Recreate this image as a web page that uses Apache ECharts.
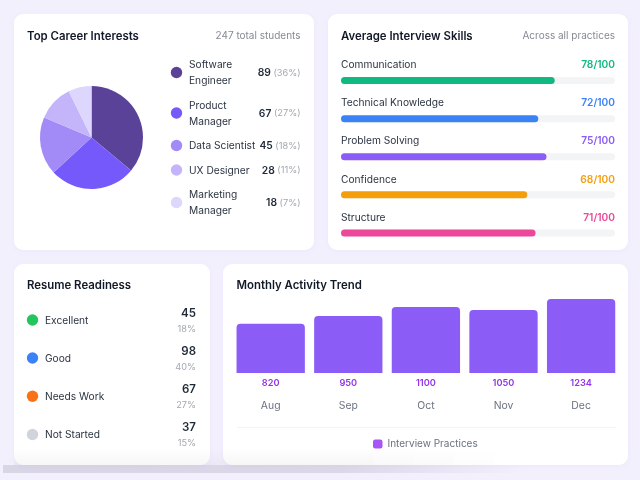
<!DOCTYPE html>
<html><head><meta charset="utf-8">
<style>html,body{margin:0;padding:0;background:#f3f0fe}#c{width:640px;height:480px;filter:blur(0.3px)}</style>
<script src="https://cdn.jsdelivr.net/npm/echarts@6/dist/echarts.min.js"></script></head>
<body><div id="c"></div>
<script>
const careerNames = ['Software\nEngineer','Product\nManager','Data Scientist','UX Designer','Marketing\nManager'];
const careerValues = [89,67,45,28,18];
const careerPercents = ['36%','27%','18%','11%','7%'];
const careerColors = ['#5b4299','#7559fb','#a28bf7','#c4b5fb','#ddd6fd'];
const skillNames = ['Communication','Technical Knowledge','Problem Solving','Confidence','Structure'];
const skillValues = [78,72,75,68,71];
const skillColors = ['#10b981','#3b82f6','#8b5cf6','#f59e0b','#ec4899'];
const readyNames = ['Excellent','Good','Needs Work','Not Started'];
const readyValues = [45,98,67,37];
const readyPercents = ['18%','40%','27%','15%'];
const readyColors = ['#22c55e','#3b82f6','#f97316','#d1d5db'];
const months = ['Aug','Sep','Oct','Nov','Dec'];
const practices = [820,950,1100,1050,1234];

const FONT = 'Inter';
const chart = echarts.init(document.getElementById('c'), null, {renderer:'canvas'});
const g = [];
function card(x,y,w,h){ g.push({type:'rect',z:0,shape:{x,y,width:w,height:h,r:9},
  style:{fill:'#fff',shadowBlur:6,shadowColor:'rgba(90,70,160,0.05)',shadowOffsetY:1}}); }
function txt(x,y,text,size,weight,color,align){ g.push({type:'text',z:5,x,y:y+0.8,style:{text,
  font:`${weight} ${size}px ${FONT}`,fill:color,align:align||'left',verticalAlign:'middle',lineHeight:16}}); }
function dot(x,y,r,color){ g.push({type:'circle',z:5,shape:{cx:x,cy:y,r},style:{fill:color}}); }

card(14,14,300,236); card(328,14,300,236); card(14,264,196,201); card(223,264,405,201);

txt(27,35.5,'Top Career Interests',11.4,600,'#111827');
txt(300.5,35.5,'247 total students',10,400,'#858a93','right');
txt(341,35.5,'Average Interview Skills',11.4,600,'#111827');
txt(615,35.5,'Across all practices',10,400,'#858a93','right');
txt(27,284.5,'Resume Readiness',11.4,600,'#111827');
txt(236.5,284.5,'Monthly Activity Trend',11.4,600,'#111827');

const legendY = [72.5,113,145.5,170,202.5];
careerNames.forEach((n,i)=>{
  dot(176.5,legendY[i],5.7,careerColors[i]);
  txt(189,legendY[i],n,10.2,400,'#2b3442');
  g.push({type:'text',z:5,x:300.5,y:legendY[i]+0.5,style:{
    text:`{b|${careerValues[i]}}{p| (${careerPercents[i]})}`,align:'right',verticalAlign:'middle',
    rich:{b:{font:`600 10.3px ${FONT}`,fill:'#1f2937'},p:{font:`400 9.2px ${FONT}`,fill:'#a3a8b0'}}}});
});
const skillY = [64.5,102.5,140.5,178.8,217];
skillNames.forEach((n,i)=>{
  txt(341,skillY[i],n,10.2,400,'#2b3442');
  txt(615,skillY[i],skillValues[i]+'/100',10.2,600,skillColors[i],'right');
});
const readyY = [320,358,396.2,434.5];
readyNames.forEach((n,i)=>{
  dot(32.5,readyY[i],5.7,readyColors[i]);
  txt(45,readyY[i],n,10.2,400,'#2b3442');
  txt(196,readyY[i]-7.5,String(readyValues[i]),11.5,600,'#1f2937','right');
  txt(196,readyY[i]+8,readyPercents[i],9.2,400,'#a3a8b0','right');
});
g.push({type:'line',z:5,shape:{x1:237,y1:427.5,x2:616,y2:427.5},style:{stroke:'#f3f4f6',lineWidth:1}});
// soft photographed shadow across the bottom of the page
g.push({type:'rect',z:1,shape:{x:3,y:465,width:520,height:8},style:{fill:new echarts.graphic.LinearGradient(0,0,1,0,[
  {offset:0,color:'rgba(110,105,130,0.2)'},{offset:0.65,color:'rgba(110,105,130,0.18)'},{offset:1,color:'rgba(110,105,130,0)'}])}});
for(let i=0;i<12;i++){
  const x=14+i*40, a=i<9?0.06:0.06*(12-i)/4;
  g.push({type:'rect',z:6,shape:{x,y:448,width:40,height:17},style:{fill:new echarts.graphic.LinearGradient(0,0,0,1,[
    {offset:0,color:'rgba(110,105,130,0)'},{offset:1,color:`rgba(110,105,130,${a})`}])}});
}

chart.setOption({
  animation:false,
  backgroundColor:'#f3f0fe',
  textStyle:{fontFamily:FONT},
  graphic:{elements:g},
  legend:{data:[{name:'Interview Practices',icon:'roundRect',itemStyle:{color:'#a855f7'}}],
    left:373,top:439,padding:0,itemWidth:9.5,itemHeight:9,itemGap:4,
    textStyle:{fontFamily:FONT,fontSize:10,color:'#6b7280'}},
  grid:[
    {left:341,top:61.5,width:274,height:190.5},
    {left:231.9,top:299,width:388,height:74}
  ],
  xAxis:[
    {gridIndex:0,type:'value',min:0,max:100,show:false},
    {gridIndex:1,type:'category',data:months,axisLine:{show:false},axisTick:{show:false},
      axisLabel:{color:'#6b7280',fontSize:10.4,fontFamily:FONT,margin:28}}
  ],
  yAxis:[
    {gridIndex:0,type:'category',data:skillNames,inverse:true,show:false},
    {gridIndex:1,type:'value',min:0,max:1234,show:false}
  ],
  series:[
    {type:'pie',center:[91.5,137.5],radius:[0,51.5],startAngle:90,silent:true,
      label:{show:false},labelLine:{show:false},
      data:careerNames.map((n,i)=>({name:n,value:careerValues[i],itemStyle:{color:careerColors[i]}}))},
    {type:'bar',xAxisIndex:0,yAxisIndex:0,barWidth:7,silent:true,
      data:skillValues.map((v,i)=>({value:v,itemStyle:{color:skillColors[i],borderRadius:3.5}})),
      showBackground:true,backgroundStyle:{color:'#f3f4f6',borderRadius:3.5}},
    {type:'bar',name:'Interview Practices',xAxisIndex:1,yAxisIndex:1,barWidth:68.3,silent:true,
      data:practices,itemStyle:{color:'#8b5cf6',borderRadius:[4,4,0,0]},
      label:{show:true,position:'insideBottom',distance:0,offset:[0,15],color:'#9333ea',
        fontFamily:FONT,fontSize:9.2,fontWeight:600}}
  ]
});
</script></body></html>
